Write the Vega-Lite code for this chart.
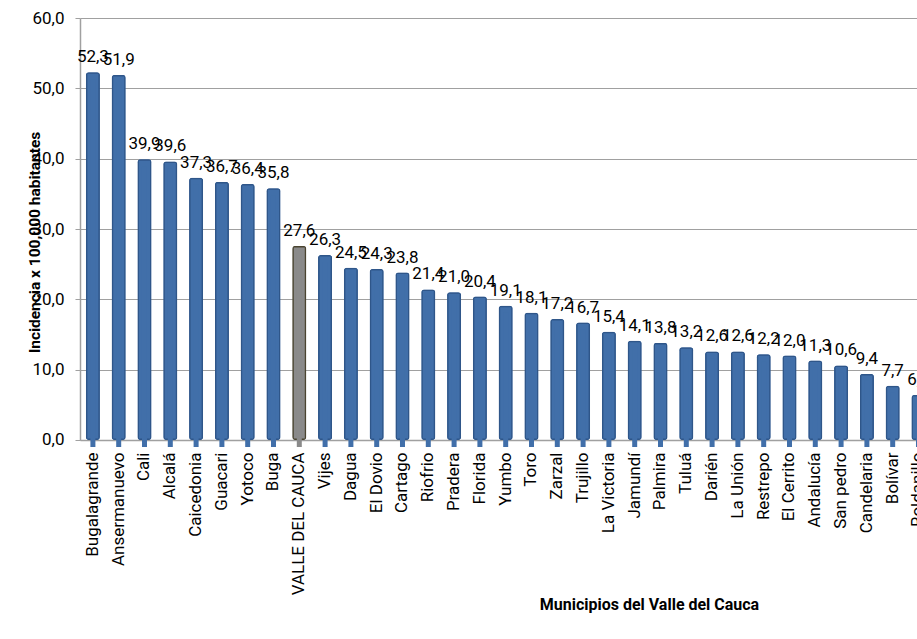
{
  "$schema": "https://vega.github.io/schema/vega-lite/v6.json",
  "padding": {"left": 28, "top": 9, "right": 5, "bottom": 5},
  "background": "white",
  "config": {
    "locale": {"number": {"decimal": ",", "thousands": ".", "grouping": [3], "currency": ["$", ""]}},
    "view": {"stroke": null},
    "font": "Roboto"
  },
  "data": {"values": [
    {"municipio": "Bugalagrande", "incidencia": 52.3, "tipo": "Municipio"},
    {"municipio": "Ansermanuevo", "incidencia": 51.9, "tipo": "Municipio"},
    {"municipio": "Cali", "incidencia": 39.9, "tipo": "Municipio"},
    {"municipio": "Alcalá", "incidencia": 39.6, "tipo": "Municipio"},
    {"municipio": "Caicedonia", "incidencia": 37.3, "tipo": "Municipio"},
    {"municipio": "Guacari", "incidencia": 36.7, "tipo": "Municipio"},
    {"municipio": "Yotoco", "incidencia": 36.4, "tipo": "Municipio"},
    {"municipio": "Buga", "incidencia": 35.8, "tipo": "Municipio"},
    {"municipio": "VALLE DEL CAUCA", "incidencia": 27.6, "tipo": "Departamento"},
    {"municipio": "Vijes", "incidencia": 26.3, "tipo": "Municipio"},
    {"municipio": "Dagua", "incidencia": 24.5, "tipo": "Municipio"},
    {"municipio": "El Dovio", "incidencia": 24.3, "tipo": "Municipio"},
    {"municipio": "Cartago", "incidencia": 23.8, "tipo": "Municipio"},
    {"municipio": "Riofrio", "incidencia": 21.4, "tipo": "Municipio"},
    {"municipio": "Pradera", "incidencia": 21.0, "tipo": "Municipio"},
    {"municipio": "Florida", "incidencia": 20.4, "tipo": "Municipio"},
    {"municipio": "Yumbo", "incidencia": 19.1, "tipo": "Municipio"},
    {"municipio": "Toro", "incidencia": 18.1, "tipo": "Municipio"},
    {"municipio": "Zarzal", "incidencia": 17.2, "tipo": "Municipio"},
    {"municipio": "Trujillo", "incidencia": 16.7, "tipo": "Municipio"},
    {"municipio": "La Victoria", "incidencia": 15.4, "tipo": "Municipio"},
    {"municipio": "Jamundí", "incidencia": 14.1, "tipo": "Municipio"},
    {"municipio": "Palmira", "incidencia": 13.8, "tipo": "Municipio"},
    {"municipio": "Tuluá", "incidencia": 13.2, "tipo": "Municipio"},
    {"municipio": "Darién", "incidencia": 12.6, "tipo": "Municipio"},
    {"municipio": "La Unión", "incidencia": 12.6, "tipo": "Municipio"},
    {"municipio": "Restrepo", "incidencia": 12.2, "tipo": "Municipio"},
    {"municipio": "El Cerrito", "incidencia": 12.0, "tipo": "Municipio"},
    {"municipio": "Andalucía", "incidencia": 11.3, "tipo": "Municipio"},
    {"municipio": "San pedro", "incidencia": 10.6, "tipo": "Municipio"},
    {"municipio": "Candelaria", "incidencia": 9.4, "tipo": "Municipio"},
    {"municipio": "Bolívar", "incidencia": 7.7, "tipo": "Municipio"},
    {"municipio": "Roldanillo", "incidencia": 6.4, "tipo": "Municipio"}
  ]},
  "width": {"step": 25.8},
  "height": 422,
  "encoding": {
    "x": {
      "field": "municipio", "type": "nominal", "sort": null,
      "scale": {"paddingInner": 0, "paddingOuter": 0},
      "axis": {
        "title": "Municipios del Valle del Cauca",
        "titleFontSize": 16, "titleFontWeight": "bold", "titleColor": "#000000",
        "titleX": 569, "titleY": 165, "titleBaseline": "middle", "titleAlign": "center",
        "labelAngle": -90, "labelAlign": "right", "labelBaseline": "middle",
        "labelFontSize": 17, "labelColor": "#000000", "labelPadding": 12,
        "ticks": false, "domainColor": "#a0a0a0", "domainWidth": 1.5,
        "labelOverlap": false
      }
    },
    "y": {
      "field": "incidencia", "type": "quantitative",
      "scale": {"domain": [0, 60], "nice": false},
      "axis": {
        "title": "Incidencia x 100,000 habitantes",
        "titleFontSize": 15.5, "titleFontWeight": "bold", "titleColor": "#000000",
        "titleX": -45, "titleY": 224, "titleBaseline": "middle", "titleAlign": "center", "titleAngle": -90,
        "values": [0, 10, 20, 30, 40, 50, 60], "format": ".1f",
        "labelFontSize": 17, "labelColor": "#000000", "labelPadding": 11,
        "tickSize": 5, "tickColor": "#a0a0a0", "domainColor": "#a0a0a0", "domainWidth": 1.5,
        "gridColor": "#a0a0a0", "gridWidth": 1.2
      }
    }
  },
  "layer": [
    {
      "mark": {"type": "bar", "width": 14, "strokeWidth": 3, "cornerRadius": 3},
      "encoding": {
        "fill": {"field": "tipo", "type": "nominal", "scale": {"domain": ["Municipio", "Departamento"], "range": ["#416fa9", "#8a8a8a"]}, "legend": null},
        "stroke": {"field": "tipo", "type": "nominal", "scale": {"domain": ["Municipio", "Departamento"], "range": ["#2f5689", "#4a4430"]}, "legend": null}
      }
    },
    {
      "mark": {"type": "bar", "width": 5, "yOffset": 7},
      "encoding": {
        "fill": {"field": "tipo", "type": "nominal", "scale": {"domain": ["Municipio", "Departamento"], "range": ["#5a8fd2", "#a8a8a8"]}, "legend": null}
      }
    },
    {
      "mark": {"type": "text", "baseline": "bottom", "dy": -6, "fontSize": 17, "color": "#000000"},
      "encoding": {
        "text": {"field": "incidencia", "type": "quantitative", "format": ".1f"}
      }
    }
  ]
}
